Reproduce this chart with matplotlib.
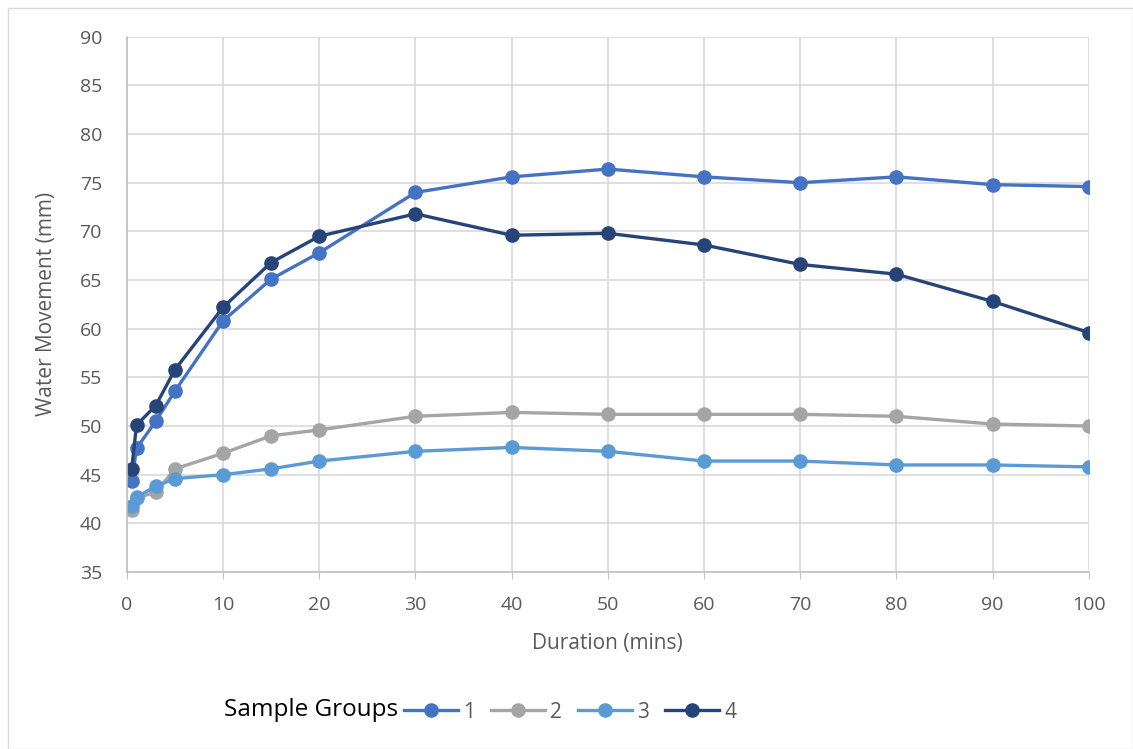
import numpy as np
import matplotlib.pyplot as plt
from matplotlib.patches import Rectangle

plt.rcParams['font.family'] = ['Open Sans', 'DejaVu Sans']

duration = [0.5, 1, 3, 5, 10, 15, 20, 30, 40, 50, 60, 70, 80, 90, 100]
group1 = [44.3, 47.7, 50.5, 53.6, 60.8, 65.1, 67.8, 74.0, 75.6, 76.4, 75.6, 75.0, 75.6, 74.8, 74.6]
group2 = [41.4, 42.6, 43.2, 45.6, 47.2, 49.0, 49.6, 51.0, 51.4, 51.2, 51.2, 51.2, 51.0, 50.2, 50.0]
group3 = [41.8, 42.7, 43.8, 44.6, 45.0, 45.6, 46.4, 47.4, 47.8, 47.4, 46.4, 46.4, 46.0, 46.0, 45.8]
group4 = [45.6, 50.1, 52.1, 55.8, 62.2, 66.8, 69.5, 71.8, 69.6, 69.8, 68.6, 66.6, 65.6, 62.8, 59.6]

groups = ['1', '2', '3', '4']
series = [group1, group2, group3, group4]
colors = ['#4472C4', '#A5A5A5', '#5B9BD5', '#264478']

fig = plt.figure(figsize=(11.33, 7.49), dpi=100)
ax = fig.add_axes([0.112, 0.2363, 0.849, 0.7147])

for name, vals, c in zip(groups, series, colors):
    ax.plot(duration, vals, color=c, linewidth=2.4, marker='o', markersize=9.5, label=name)

ax.set_xlim(0, 100)
ax.set_ylim(35, 90)
ax.set_xticks(np.arange(0, 101, 10))
ax.set_yticks(np.arange(35, 91, 5))
ax.grid(True, color='#D9D9D9', linewidth=1.2)
ax.set_axisbelow(True)
for s in ['top', 'right']:
    ax.spines[s].set_visible(False)
for s in ['left', 'bottom']:
    ax.spines[s].set_color('#BFBFBF')
    ax.spines[s].set_linewidth(1.2)
ax.tick_params(axis='x', length=5, color='#BFBFBF', labelsize=14, labelcolor='#595959', pad=12)
ax.tick_params(axis='y', length=0, labelsize=14, labelcolor='#595959', pad=18)
ax.set_xlabel('Duration (mins)', fontsize=15, color='#595959', labelpad=14)
ax.set_ylabel('Water Movement (mm)', fontsize=15, color='#595959', labelpad=16)

fig.text(224 / 1133, 1 - 710 / 749, 'Sample Groups', fontsize=17.5, color='black', va='center', ha='left')
fig.legend(loc='center left', bbox_to_anchor=(404 / 1133, 1 - 712 / 749), ncol=4, frameon=False,
           fontsize=15, labelcolor='#595959', handlelength=2.6, handletextpad=0.25, columnspacing=0.75,
           borderpad=0, borderaxespad=0)

fig.patches.append(Rectangle((8 / 1133, 0), 1 - 8 / 1133, 1 - 8 / 749, transform=fig.transFigure,
                             fill=False, edgecolor='#D9D9D9', linewidth=1))

fig.savefig('out.png', dpi=100)
